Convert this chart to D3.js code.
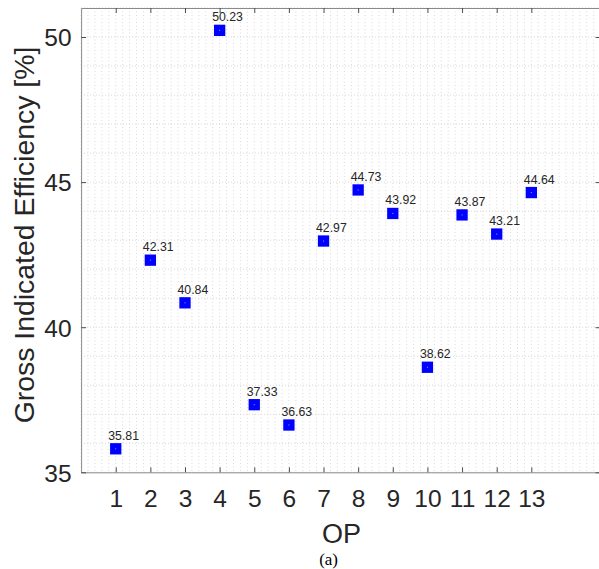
<!DOCTYPE html>
<html>
<head>
<meta charset="utf-8">
<script src="https://cdn.jsdelivr.net/npm/d3@7"></script>
<style>
  body { margin: 0; background: #fff; }
  svg { display: block; }
</style>
</head>
<body>
<svg id="chart" width="599" height="569"></svg>
<script>
// Operating points and gross indicated efficiency values
const ops = [1, 2, 3, 4, 5, 6, 7, 8, 9, 10, 11, 12, 13];
const efficiency = [35.81, 42.31, 40.84, 50.23, 37.33, 36.63, 42.97, 44.73, 43.92, 38.62, 43.87, 43.21, 44.64];
const xTicks = [1, 2, 3, 4, 5, 6, 7, 8, 9, 10, 11, 12, 13];
const yTicks = [35, 40, 45, 50];
const xDomain = [0, 15];
const yDomain = [35, 51];

const svg = d3.select("#chart");
const margin = { left: 81.1, top: 8 };
const width = 519.5, height = 464.3;
const font = "'Liberation Sans', Arial, Helvetica, sans-serif";
const textColor = "#262626";

const x = d3.scaleLinear().domain(xDomain).range([0, width]);
const y = d3.scaleLinear().domain(yDomain).range([height, 0]);

const g = svg.append("g").attr("transform", `translate(${margin.left},${margin.top})`);

// --- grid: dotted lines (minor x every 0.2, y every 1) ---
const xMinor = d3.range(0, 15.0001, 0.2);
const yMinor = d3.range(35, 51.0001, 1);

g.append("g").selectAll("line")
  .data(xMinor)
  .join("line")
  .attr("x1", d => x(d)).attr("x2", d => x(d))
  .attr("y1", 0).attr("y2", height)
  .attr("stroke", "#dadada")
  .attr("stroke-width", 1)
  .attr("stroke-dasharray", "1,2.5");

g.append("g").selectAll("line")
  .data(yMinor)
  .join("line")
  .attr("x1", 0).attr("x2", width)
  .attr("y1", d => y(d)).attr("y2", d => y(d))
  .attr("stroke", "#d6d6d6")
  .attr("stroke-width", 1)
  .attr("stroke-dasharray", "1,2");

// --- axes (ticks inward, MATLAB style box) ---
function styleAxis(sel) {
  sel.select(".domain").attr("stroke", "#8a8a8a").attr("stroke-width", 1);
  sel.selectAll(".tick line").attr("stroke", "#4d4d4d").attr("stroke-width", 1);
  sel.selectAll("text")
    .attr("fill", textColor)
    .style("font-family", font)
    .style("font-size", "24.5px");
}

const xAxis = g.append("g")
  .attr("transform", `translate(0,${height})`)
  .call(d3.axisBottom(x).tickValues(xTicks).tickSizeInner(-5).tickSizeOuter(0).tickFormat(d3.format("d")))
  .call(styleAxis);
xAxis.selectAll("text").attr("y", 34.4).attr("dy", 0);

const yAxis = g.append("g")
  .call(d3.axisLeft(y).tickValues(yTicks).tickSizeInner(-5).tickSizeOuter(0).tickFormat(d3.format("d")))
  .call(styleAxis);
yAxis.selectAll("text").attr("x", -9.5).attr("dy", "0.36em");

g.append("g")
  .call(d3.axisTop(x).tickValues(xTicks).tickSizeInner(-5).tickSizeOuter(0).tickFormat(""))
  .call(styleAxis);

g.append("g")
  .attr("transform", `translate(${width},0)`)
  .call(d3.axisRight(y).tickValues(yTicks).tickSizeInner(-5).tickSizeOuter(0).tickFormat(""))
  .call(styleAxis);

// --- markers ---
const data = ops.map((op, i) => ({ op, value: efficiency[i] }));
const s = 11.3;

g.append("g").selectAll("rect")
  .data(data)
  .join("rect")
  .attr("x", d => x(d.op) - s / 2)
  .attr("y", d => y(d.value) - s / 2)
  .attr("width", s)
  .attr("height", s)
  .attr("fill", "#0000ff");

g.append("g").selectAll("rect")
  .data(data)
  .join("rect")
  .attr("x", d => x(d.op) - 0.5)
  .attr("y", d => y(d.value) - 0.5)
  .attr("width", 1)
  .attr("height", 1)
  .attr("fill", "#9a9aff");

// value labels
g.append("g").selectAll("text")
  .data(data)
  .join("text")
  .attr("x", d => x(d.op) - 7.5)
  .attr("y", d => y(d.value) - 9)
  .attr("fill", textColor)
  .style("font-family", font)
  .style("font-size", "12.3px")
  .text(d => d.value.toFixed(2));

// --- axis titles ---
svg.append("text")
  .attr("transform", `translate(33.5,235) rotate(-90)`)
  .attr("text-anchor", "middle")
  .attr("fill", textColor)
  .style("font-family", font)
  .style("font-size", "28.4px")
  .text("Gross Indicated Efficiency [%]");

svg.append("text")
  .attr("x", 341.5)
  .attr("y", 543)
  .attr("text-anchor", "middle")
  .attr("fill", textColor)
  .style("font-family", font)
  .style("font-size", "27px")
  .text("OP");

svg.append("text")
  .attr("x", 328.6)
  .attr("y", 565)
  .attr("text-anchor", "middle")
  .attr("fill", "#000")
  .style("font-family", "'Liberation Serif', 'Times New Roman', serif")
  .style("font-size", "17px")
  .text("(a)");
</script>
</body>
</html>
